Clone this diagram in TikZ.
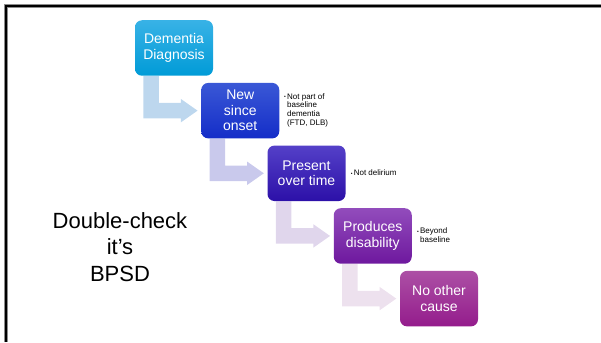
\documentclass[tikz,border=0pt]{standalone}
\usepackage{fontspec}
\setmainfont{Liberation Sans}
\usetikzlibrary{calc}
\pgfdeclarelayer{background}
\pgfsetlayers{background,main}

% step colours: box gradients (top/bottom) and the connecting arrows
\definecolor{boxAtop}{RGB}{56,178,230}   \definecolor{boxAbot}{RGB}{0,155,215}
\definecolor{boxBtop}{RGB}{58,88,214}    \definecolor{boxBbot}{RGB}{20,45,200}
\definecolor{boxCtop}{RGB}{84,64,200}    \definecolor{boxCbot}{RGB}{44,16,168}
\definecolor{boxDtop}{RGB}{146,76,188}   \definecolor{boxDbot}{RGB}{110,24,158}
\definecolor{boxEtop}{RGB}{172,80,165}   \definecolor{boxEbot}{RGB}{148,28,140}
\definecolor{arrA}{RGB}{189,215,238}
\definecolor{arrB}{RGB}{201,201,236}
\definecolor{arrC}{RGB}{224,214,236}
\definecolor{arrD}{RGB}{237,225,238}

\tikzset{
  stepbox/.style={rounded corners=7pt, minimum width=78pt, minimum height=55.5pt,
    inner sep=0pt, align=center, text=white,
    font=\fontsize{14}{15.6}\selectfont},
  notetext/.style={inner sep=0pt, align=left, anchor=west,
    font=\fontsize{8}{8.7}\selectfont},
  notebullet/.style={inner sep=0pt, anchor=base east,
    font=\fontsize{5}{5}\selectfont},
  % bent arrow from the bottom of #1 into the left side of #2
  bentarrow/.style n args={3}{insert path={
    let \p1=(#1.south west), \p2=(#2.west) in
    (\x1+8.5pt,\y1) -- (\x1+24pt,\y1) -- (\x1+24pt,\y2+7.75pt)
    -- (\x1+46pt,\y2+7.75pt) -- (\x1+46pt,\y2+11.75pt)
    -- (\x2-3.5pt,\y2)
    -- (\x1+46pt,\y2-11.75pt) -- (\x1+46pt,\y2-7.75pt)
    -- (\x1+8.5pt,\y2-7.75pt) -- cycle}}
}

\begin{document}
\begin{tikzpicture}[x=1pt,y=-1pt]
  \useasboundingbox (0,0) rectangle (601,342);

  % slide frame
  \draw[line width=3.6pt, black!45] (6,342) -- (6,6) -- (601,6);
  \draw[line width=2.5pt] (6,342) -- (6,6) -- (601,6);

  % the five steps
  \node[stepbox, top color=boxAtop, bottom color=boxAbot] (b1) at (174,48)       {Dementia\\Diagnosis};
  \node[stepbox, top color=boxBtop, bottom color=boxBbot] (b2) at (240.25,110.65) {New\\since\\onset};
  \node[stepbox, top color=boxCtop, bottom color=boxCbot] (b3) at (306.5,173.3)  {Present\\over time};
  \node[stepbox, top color=boxDtop, bottom color=boxDbot] (b4) at (372.75,235.95) {Produces\\disability};
  \node[stepbox, top color=boxEtop, bottom color=boxEbot] (b5) at (439,298.6)    {No other\\cause};

  % connecting bent arrows, behind the boxes
  \begin{pgfonlayer}{background}
    \fill[arrA] [bentarrow={b1}{b2}{}];
    \fill[arrB] [bentarrow={b2}{b3}{}];
    \fill[arrC] [bentarrow={b3}{b4}{}];
    \fill[arrD] [bentarrow={b4}{b5}{}];
  \end{pgfonlayer}

  % side notes
  \node[notetext] (n2) at ($(b2.east)+(7.5,-0.5)$) {Not part of\\baseline\\dementia\\(FTD, DLB)};
  \node[notebullet] (d2) at ($(n2.north west)+(-0.8,5.8)$) {\textbullet};
  \node[notetext] (n3) at ($(b3.east)+(7.9,-0.3)$) {Not delirium};
  \node[notebullet] (d3) at ($(n3.north west)+(-0.8,5.8)$) {\textbullet};
  \node[notetext] (n4) at ($(b4.east)+(8,-0.5)$) {Beyond\\baseline};
  \node[notebullet] (d4) at ($(n4.north west)+(-0.8,5.8)$) {\textbullet};

  % left caption
  \node[align=center, inner sep=0pt, font=\fontsize{22}{26.7}\selectfont] (cap) at (120,247)
    {Double-check\\it’s\\BPSD};
\end{tikzpicture}
\end{document}
